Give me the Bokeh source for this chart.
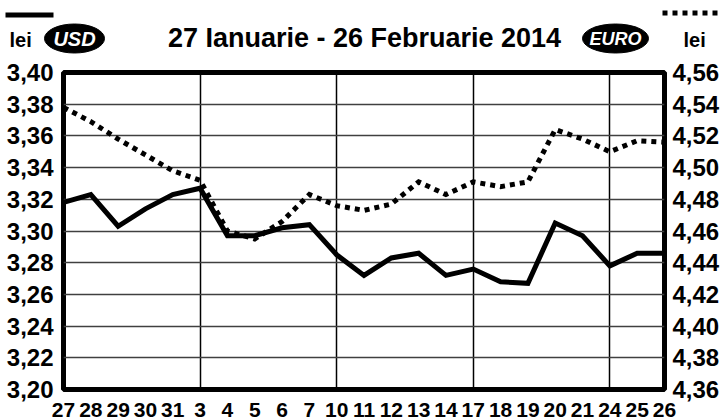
from bokeh.plotting import figure
from bokeh.layouts import column
from bokeh.models import Range1d, LinearAxis, FixedTicker, CustomJSTickFormatter
from bokeh.core.properties import value
from bokeh.embed import file_html
from bokeh.resources import INLINE

# ---------------- data ----------------
days = ["27", "28", "29", "30", "31", "3", "4", "5", "6", "7", "10", "11", "12",
        "13", "14", "17", "18", "19", "20", "21", "24", "25", "26"]
usd = [3.318, 3.323, 3.303, 3.314, 3.323, 3.327, 3.297, 3.297, 3.302, 3.304,
       3.285, 3.272, 3.283, 3.286, 3.272, 3.276, 3.268, 3.267, 3.305, 3.297,
       3.278, 3.286, 3.286]
eur = [4.538, 4.529, 4.518, 4.508, 4.498, 4.492, 4.460, 4.455, 4.466, 4.483,
       4.476, 4.473, 4.477, 4.491, 4.483, 4.491, 4.488, 4.491, 4.524, 4.518,
       4.510, 4.517, 4.516]
week_starts = ["3", "10", "17", "24"]
usd_ticks = [3.20, 3.22, 3.24, 3.26, 3.28, 3.30, 3.32, 3.34, 3.36, 3.38, 3.40]
eur_ticks = [4.36, 4.38, 4.40, 4.42, 4.44, 4.46, 4.48, 4.50, 4.52, 4.54, 4.56]
title_text = "27 Ianuarie - 26 Februarie 2014"
unit_text = "lei"
usd_name = "USD"
eur_name = "EURO"

# ---------------- sizes ----------------
W = 722
HEAD_H = 60
MAIN_H = 360
FONT = "Liberation Sans"

# ---------------- header strip ----------------
h = figure(width=W, height=HEAD_H, output_backend="svg", toolbar_location=None,
           x_range=Range1d(0, W), y_range=Range1d(HEAD_H, 0),
           min_border=0, background_fill_color="white", border_fill_color="white")
h.frame_align = False
h.axis.visible = False
h.grid.visible = False
h.outline_line_color = None

# legend samples (solid = USD, dotted = EURO)
h.segment(x0=[5], y0=[14.5], x1=[53], y1=[14.5], line_width=5, line_color="black")
h.segment(x0=[662], y0=[12.5], x1=[722], y1=[12.5], line_width=5,
          line_color="black", line_dash="5 5")

# currency badges
h.ellipse(x=[74, 615], y=[38, 38], width=[60, 66], height=[29, 29],
          fill_color="black", line_color="black")
h.text(x=[74], y=[38], text=[usd_name],
       text_font=value(FONT), text_font_style="bold italic",
       text_font_size="20px", text_color="white",
       text_align="center", text_baseline="middle")
h.text(x=[615], y=[38], text=[eur_name],
       text_font=value(FONT), text_font_style="bold italic",
       text_font_size="18px", text_color="white",
       text_align="center", text_baseline="middle")

# units
h.text(x=[9, 683], y=[39, 39], text=[unit_text, unit_text],
       text_font=value(FONT), text_font_style="bold", text_font_size="20px",
       text_color="black", text_align="left", text_baseline="middle")

# title
h.text(x=[364], y=[37], text=[title_text], text_font=value(FONT),
       text_font_style="bold", text_font_size="27px", text_color="black",
       text_align="center", text_baseline="middle")

# ---------------- main chart ----------------
xs = list(range(len(days)))

p = figure(width=W, height=MAIN_H, output_backend="svg", toolbar_location=None,
           x_range=Range1d(0, len(days) - 1),
           y_range=Range1d(usd_ticks[0], usd_ticks[-1]),
           min_border_left=63, min_border_right=55,
           min_border_top=12, min_border_bottom=31,
           background_fill_color="white", border_fill_color="white")
p.frame_align = False
p.extra_y_ranges = {"eur": Range1d(eur_ticks[0], eur_ticks[-1])}

p.outline_line_color = "black"
p.outline_line_width = 5

p.xgrid.ticker = FixedTicker(ticks=[days.index(d) for d in week_starts])
p.xgrid.grid_line_color = "black"
p.xgrid.grid_line_width = 1.5
p.ygrid.ticker = FixedTicker(ticks=usd_ticks)
p.ygrid.grid_line_color = "#404040"
p.ygrid.grid_line_width = 1.6

p.line(xs, usd, line_width=5, line_color="black", line_join="miter")
p.line(xs, eur, y_range_name="eur", line_width=5, line_color="black",
       line_dash="5 5", line_join="miter")

COMMA = "return tick.toFixed(2).replace('.', ',');"


def style_axis(ax, standoff, size):
    ax.axis_line_color = None
    ax.major_tick_line_color = None
    ax.minor_tick_line_color = None
    ax.major_label_text_font = FONT
    ax.major_label_text_font_style = "bold"
    ax.major_label_text_font_size = size
    ax.major_label_text_color = "black"
    ax.major_label_standoff = standoff


p.xaxis.ticker = FixedTicker(ticks=xs)
p.xaxis.major_label_overrides = {i: d for i, d in zip(xs, days)}
style_axis(p.xaxis[0], 7, "21px")

p.yaxis.ticker = FixedTicker(ticks=usd_ticks)
p.yaxis.formatter = CustomJSTickFormatter(code=COMMA)
style_axis(p.yaxis[0], 4, "24px")

rax = LinearAxis(y_range_name="eur", ticker=FixedTicker(ticks=eur_ticks),
                 formatter=CustomJSTickFormatter(code=COMMA))
style_axis(rax, 2, "24px")
p.add_layout(rax, "right")

layout = column(h, p, spacing=0)
open("out.html", "w").write(file_html(layout, INLINE))
